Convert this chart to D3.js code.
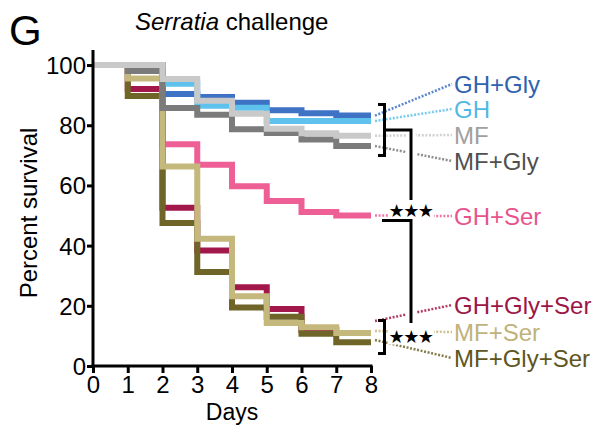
<!DOCTYPE html>
<html><head><meta charset="utf-8">
<script src="https://cdn.jsdelivr.net/npm/d3@7/dist/d3.min.js"></script>
<style>html,body{margin:0;padding:0;background:#fff;}svg{display:block;}</style>
</head><body>
<svg id="c" width="594" height="426"></svg>
<script>
// ---- data ----
const days = [0, 1, 2, 3, 4, 5, 6, 7, 8];
const xTicks = [0, 1, 2, 3, 4, 5, 6, 7, 8];
const yTicks = [0, 20, 40, 60, 80, 100];
const seriesNames = ["GH+Gly", "GH", "MF", "MF+Gly", "GH+Ser", "GH+Gly+Ser", "MF+Ser", "MF+Gly+Ser"];
// survival (%) over each day interval [0-1],[1-2],...,[7-8]
const ghGly      = [100, 100, 90.4, 89.4, 87.5, 85.0, 84.0, 83.2];
const gh         = [100, 100, 93.8, 86.5, 85.8, 81.4, 81.4, 81.4];
const mf         = [100, 100, 95.4, 88.1, 83.8, 78.8, 77.3, 76.5];
const mfGly      = [100, 98.0, 85.7, 83.5, 78.7, 77.4, 75.3, 73.1];
const ghSer      = [100, 100, 73.7, 66.9, 59.7, 54.8, 51.2, 50.0];
const ghGlySer   = [100, 92.0, 52.6, 38.4, 26.2, 18.9, 12.0, 11.0];
const mfSer      = [100, 95.5, 66.3, 42.3, 23.2, 14.3, 12.9, 11.0];
const mfGlySer   = [100, 89.7, 47.5, 31.2, 19.4, 16.4, 10.7, 7.9];
const lineColors = ["#3d72c4", "#5ec2ec", "#c9c9c9", "#7b7b7b", "#ee5f96", "#a3184b", "#c5b87c", "#6f6528"];
const textColors = ["#2f63b0", "#4fb9e6", "#a0a0a0", "#505050", "#e8538e", "#9c1547", "#c0b27a", "#5e5520"];
const labelY = [84, 109, 135, 161, 216, 305, 332, 358];   // label centre heights (px)
const leaderStartY = [null, null, null, null, null, 321, 331, 340];
const drawOrder = [4, 5, 7, 6, 0, 1, 3, 2];
const allValues = [ghGly, gh, mf, mfGly, ghSer, ghGlySer, mfSer, mfGlySer];

// ---- setup ----
const svg = d3.select("#c");
const x = d3.scaleLinear().domain([0, 8]).range([93, 371]);
const y = d3.scaleLinear().domain([0, 105]).range([366, 50]);
const FONT = "'Liberation Sans', Arial, Helvetica, sans-serif";

// title
svg.append("text").attr("x", 9).attr("y", 45).attr("font-family", FONT)
  .attr("font-size", 42).text("G");
const t = svg.append("text").attr("x", 135).attr("y", 30).attr("font-family", FONT).attr("font-size", 24);
t.append("tspan").attr("font-style", "italic").text("Serratia");
t.append("tspan").text(" challenge");

// data lines
const line = d3.line().x(d => x(d[0])).y(d => y(d[1])).curve(d3.curveStepAfter);
drawOrder.forEach(i => {
  const vals = allValues[i];
  const pts = days.map((d, k) => [d, vals[Math.min(k, vals.length - 1)]]);
  svg.append("path").attr("d", line(pts)).attr("fill", "none")
    .attr("stroke", lineColors[i]).attr("stroke-width", 6)
    .attr("stroke-linejoin", "miter").attr("stroke-linecap", "butt");
});

// axes
const yAxis = d3.axisLeft(y).tickValues(yTicks).tickSize(6).tickSizeOuter(0);
const gy = svg.append("g").attr("transform", "translate(93,0)").call(yAxis);
gy.select(".domain").remove();
gy.append("line").attr("x1", 0).attr("x2", 0).attr("y1", 50).attr("y2", 367.5)
  .attr("stroke", "#000").attr("stroke-width", 3);
gy.selectAll(".tick line").attr("stroke", "#000").attr("stroke-width", 3);
gy.selectAll(".tick text").attr("x", -7).attr("dy", null).attr("y", 8.5)
  .attr("font-family", FONT).attr("font-size", 24).attr("fill", "#000");

const xAxis = d3.axisBottom(x).tickValues(xTicks).tickSize(7).tickSizeOuter(0);
const gx = svg.append("g").attr("transform", "translate(0,366)").call(xAxis);
gx.select(".domain").remove();
gx.append("line").attr("x1", 91.5).attr("x2", 372.5).attr("y1", 0).attr("y2", 0)
  .attr("stroke", "#000").attr("stroke-width", 3);
gx.selectAll(".tick line").attr("stroke", "#000").attr("stroke-width", 3);
gx.selectAll(".tick text").attr("y", 27).attr("dy", null)
  .attr("font-family", FONT).attr("font-size", 24).attr("fill", "#000");

svg.append("text").attr("x", 232).attr("y", 420).attr("text-anchor", "middle")
  .attr("font-family", FONT).attr("font-size", 23).text("Days");
svg.append("text").attr("transform", "translate(37,213) rotate(-90)").attr("text-anchor", "middle")
  .attr("font-family", FONT).attr("font-size", 24).text("Percent survival");

// leaders + labels
seriesNames.forEach((n, i) => {
  const vals = allValues[i];
  const y0 = leaderStartY[i] != null ? leaderStartY[i] : y(vals[vals.length - 1]);
  svg.append("line").attr("x1", 375).attr("y1", y0).attr("x2", 452).attr("y2", labelY[i])
    .attr("stroke", lineColors[i]).attr("stroke-opacity", 0.85)
    .attr("stroke-width", 2.5).attr("stroke-dasharray", "2,1.6");
  svg.append("text").attr("x", 454).attr("y", labelY[i] + 8.5)
    .attr("font-family", FONT).attr("font-size", 24).attr("fill", textColors[i]).text(n);
});

// significance brackets
const halo = [[411, 130, 411, 200], [411, 220, 411, 323]];
halo.forEach(s => svg.append("line").attr("x1", s[0]).attr("y1", s[1]).attr("x2", s[2]).attr("y2", s[3])
  .attr("stroke", "#fff").attr("stroke-width", 10));
function path(d) { svg.append("path").attr("d", d).attr("fill", "none").attr("stroke", "#000")
  .attr("stroke-width", 3).attr("stroke-linejoin", "miter"); }
path("M378,104.5 H384.5 V155.5 H378");
path("M384.5,130 H411 V200");
path("M382,220.5 H411 V323");
path("M378,320.5 H384.5 V353.5 H378");
[210.5, 336.5].forEach(cy => {
  svg.append("rect").attr("x", 388).attr("y", cy - 8).attr("width", 46).attr("height", 16).attr("fill", "#fff");
  svg.append("text").attr("x", 410.5).attr("y", cy + 6.5).attr("text-anchor", "middle")
    .attr("font-family", "'DejaVu Sans', sans-serif").attr("font-size", 18)
    .attr("letter-spacing", -1.5).text("★★★");
});
</script>
</body></html>
